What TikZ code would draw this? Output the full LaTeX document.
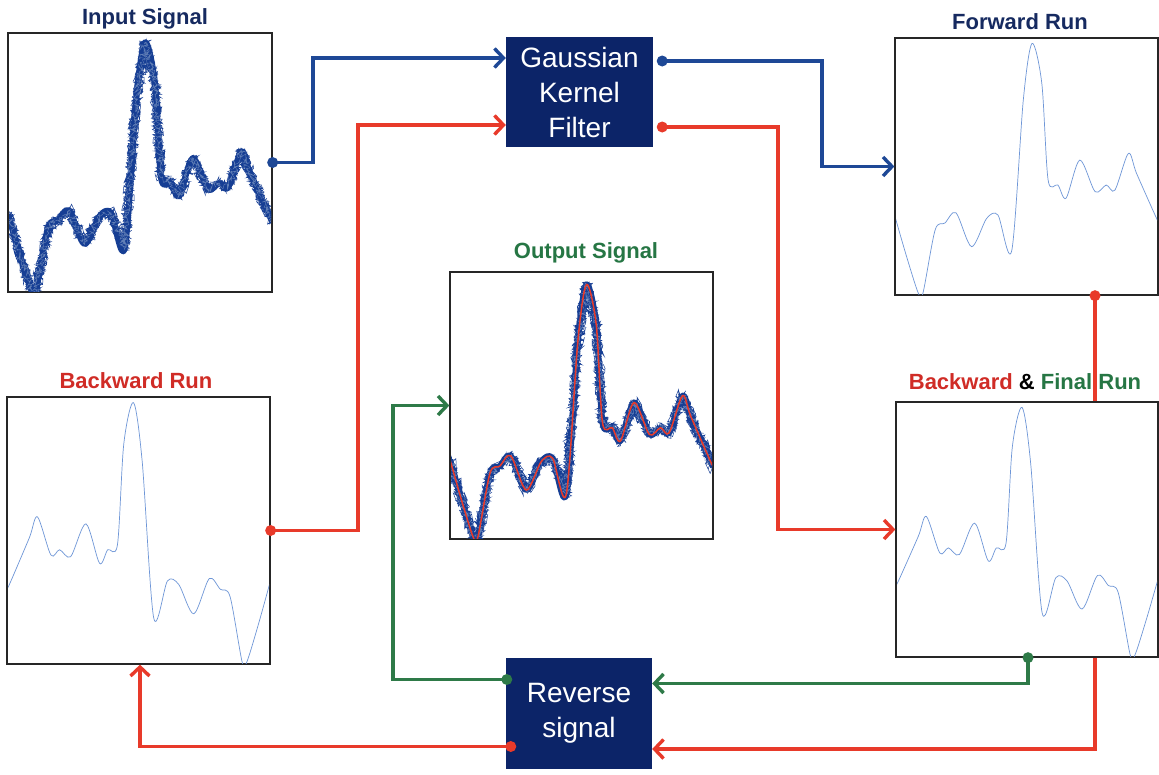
\documentclass[tikz,border=0pt]{standalone}
\usepackage{fontspec}
\setmainfont{Liberation Sans}
\usetikzlibrary{arrows.meta,decorations.pathmorphing}
\definecolor{navy}{RGB}{12,36,104}
\definecolor{tnavy}{RGB}{22,42,96}
\definecolor{lblue}{RGB}{30,72,150}
\definecolor{lred}{RGB}{232,58,42}
\definecolor{lgreen}{RGB}{46,122,72}
\definecolor{tred}{RGB}{208,44,38}
\definecolor{tgreen}{RGB}{38,118,68}
\definecolor{sigblue}{RGB}{110,150,215}
\definecolor{noiseblue}{RGB}{22,62,148}
\newcommand\sigplot[2][smooth,tension=0.5]{\draw[#2] plot[#1] coordinates {
({\L+0*\W},{\B-0.305*\H}) ({\L+0.044*\W},{\B-0.149*\H}) ({\L+0.088*\W},{\B-0.008*\H})
({\L+0.106*\W},{\B-0.008*\H}) ({\L+0.152*\W},{\B-0.253*\H}) ({\L+0.189*\W},{\B-0.28*\H})
({\L+0.231*\W},{\B-0.32*\H}) ({\L+0.29*\W},{\B-0.188*\H}) ({\L+0.347*\W},{\B-0.298*\H})
({\L+0.39*\W},{\B-0.311*\H}) ({\L+0.442*\W},{\B-0.172*\H}) ({\L+0.486*\W},{\B-0.759*\H})
({\L+0.519*\W},{\B-0.979*\H}) ({\L+0.556*\W},{\B-0.824*\H}) ({\L+0.58*\W},{\B-0.447*\H})
({\L+0.617*\W},{\B-0.428*\H}) ({\L+0.648*\W},{\B-0.377*\H}) ({\L+0.7*\W},{\B-0.525*\H})
({\L+0.758*\W},{\B-0.402*\H}) ({\L+0.8*\W},{\B-0.428*\H}) ({\L+0.833*\W},{\B-0.408*\H})
({\L+0.884*\W},{\B-0.551*\H}) ({\L+0.915*\W},{\B-0.473*\H}) ({\L+0.985*\W},{\B-0.311*\H})
({\L+1.0*\W},{\B-0.28*\H})};}
\newcommand\noisysig{%
  \sigplot{noiseblue,line width=6pt,line join=round}
  \sigplot[sharp plot]{noiseblue,line width=0.5pt,decorate,decoration={random steps,segment length=0.7pt,amplitude=5pt}}
  \sigplot[sharp plot]{noiseblue,line width=0.5pt,decorate,decoration={random steps,segment length=0.6pt,amplitude=6pt}}
  \sigplot[sharp plot]{noiseblue,line width=0.5pt,decorate,decoration={random steps,segment length=0.8pt,amplitude=4.5pt}}
  \sigplot[sharp plot]{lblue!70,line width=0.4pt,decorate,decoration={random steps,segment length=1pt,amplitude=3.5pt}}}
\begin{document}
\begin{tikzpicture}[x=1pt,y=-1pt,
  plotbox/.style={draw=black!85,line width=1.3pt,inner sep=0pt,minimum width=#1},
  procbox/.style={fill=navy,text=white,inner sep=0pt,align=center,font=\fontsize{28}{35}\selectfont},
  ttl/.style={font=\bfseries\fontsize{22}{24}\selectfont,inner sep=0pt},
  conn/.style={line width=3.4pt},
  tip/.style={-{Straight Barb[length=9pt,width=19pt]}},
  dotr/.style={radius=5.5pt}]
\pgfmathsetseed{7}
\useasboundingbox (0,0) rectangle (1159,774);
\fill[white] (0,0) rectangle (1159,774);
% plot boxes
\node[plotbox=264pt,minimum height=259pt] (inp) at (140,162.5) {};
\node[plotbox=263pt,minimum height=257pt] (fwd) at (1026.5,166.5) {};
\node[plotbox=263pt,minimum height=267pt] (bwd) at (138.5,530.5) {};
\node[plotbox=263pt,minimum height=267pt] (out) at (581.5,405.5) {};
\node[plotbox=262pt,minimum height=255pt] (fin) at (1027,529.5) {};
% process boxes
\node[procbox,minimum width=147pt,minimum height=110pt] (gk) at (579.5,92) {Gaussian\\Kernel\\Filter};
\node[procbox,minimum width=146pt,minimum height=111pt] (rev) at (579,713.5) {Reverse\\signal};
% titles
\node[ttl,text=tnavy] (tinp) at (145,19) {Input Signal};
\node[ttl,text=tnavy] (tfwd) at (1020,22) {Forward Run};
\node[ttl,text=tgreen] (tout) at (586,253) {Output Signal};
\node[ttl,text=tred] (tbwd) at (136,381) {Backward Run};
\node[ttl] (tfin) at (1025,382) {\textcolor{tred}{Backward} \textcolor{black}{\&} \textcolor{tgreen}{Final Run}};
% signals
\begin{scope}
\clip (9,34) rectangle (271,291);
\def\L{8}\def\B{292}\def\W{264}\def\H{255}
\noisysig
\end{scope}
\begin{scope}
\clip (896,39) rectangle (1157,294);
\def\L{895}\def\B{295}\def\W{264}\def\H{257}
\sigplot{sigblue,line width=0.7pt}
\end{scope}
\begin{scope}
\clip (8,398) rectangle (269,663);
\def\L{270}\def\B{664}\def\W{-263}\def\H{267}
\sigplot{sigblue,line width=0.7pt}
\end{scope}
\begin{scope}
\clip (897,403) rectangle (1157,656);
\def\L{1158}\def\B{657}\def\W{-262}\def\H{255}
\sigplot{sigblue,line width=0.7pt}
\end{scope}
\begin{scope}
\clip (451,273) rectangle (712,538);
\def\L{450}\def\B{539}\def\W{263}\def\H{260}
\noisysig
\sigplot{lred,line width=1.5pt}
\end{scope}
% connectors
\draw[conn,lblue,tip] (inp.east) -- (313,162.5) |- ([yshift=34pt]gk.west);
\fill[lblue] (inp.east) circle[dotr];
\draw[conn,lblue,tip] ([xshift=9pt,yshift=31pt]gk.east) -- (822,61) |- (fwd.west);
\fill[lblue] ([xshift=9pt,yshift=31pt]gk.east) circle[dotr];
\draw[conn,lred,tip] (bwd.east) -- (358,530.5) |- ([yshift=-33pt]gk.west);
\fill[lred] (bwd.east) circle[dotr];
\draw[conn,lred,tip] ([xshift=9pt,yshift=-35pt]gk.east) -- (778,127) |- (fin.west);
\fill[lred] ([xshift=9pt,yshift=-35pt]gk.east) circle[dotr];
\draw[conn,lred] ([xshift=68.5pt]fwd.south) -- ([xshift=68pt]fin.north);
\fill[lred] ([xshift=68.5pt]fwd.south) circle[dotr];
\draw[conn,lred,tip] ([xshift=68pt]fin.south) -- (1095,749) -- ([yshift=-35.5pt]rev.east);
\draw[conn,lgreen,tip] ([xshift=1pt]fin.south) -- (1028,683.5) -- ([yshift=30pt]rev.east);
\fill[lgreen] ([xshift=1pt]fin.south) circle[dotr];
\draw[conn,lgreen,tip] ([xshift=1pt,yshift=34pt]rev.west) -- (393,679.5) |- (out.west);
\fill[lgreen] ([xshift=1pt,yshift=34pt]rev.west) circle[dotr];
\draw[conn,lred,tip] ([xshift=5pt,yshift=-33pt]rev.west) -- (140,746.5) -- ([xshift=1.5pt]bwd.south);
\fill[lred] ([xshift=5pt,yshift=-33pt]rev.west) circle[dotr];
\end{tikzpicture}
\end{document}
